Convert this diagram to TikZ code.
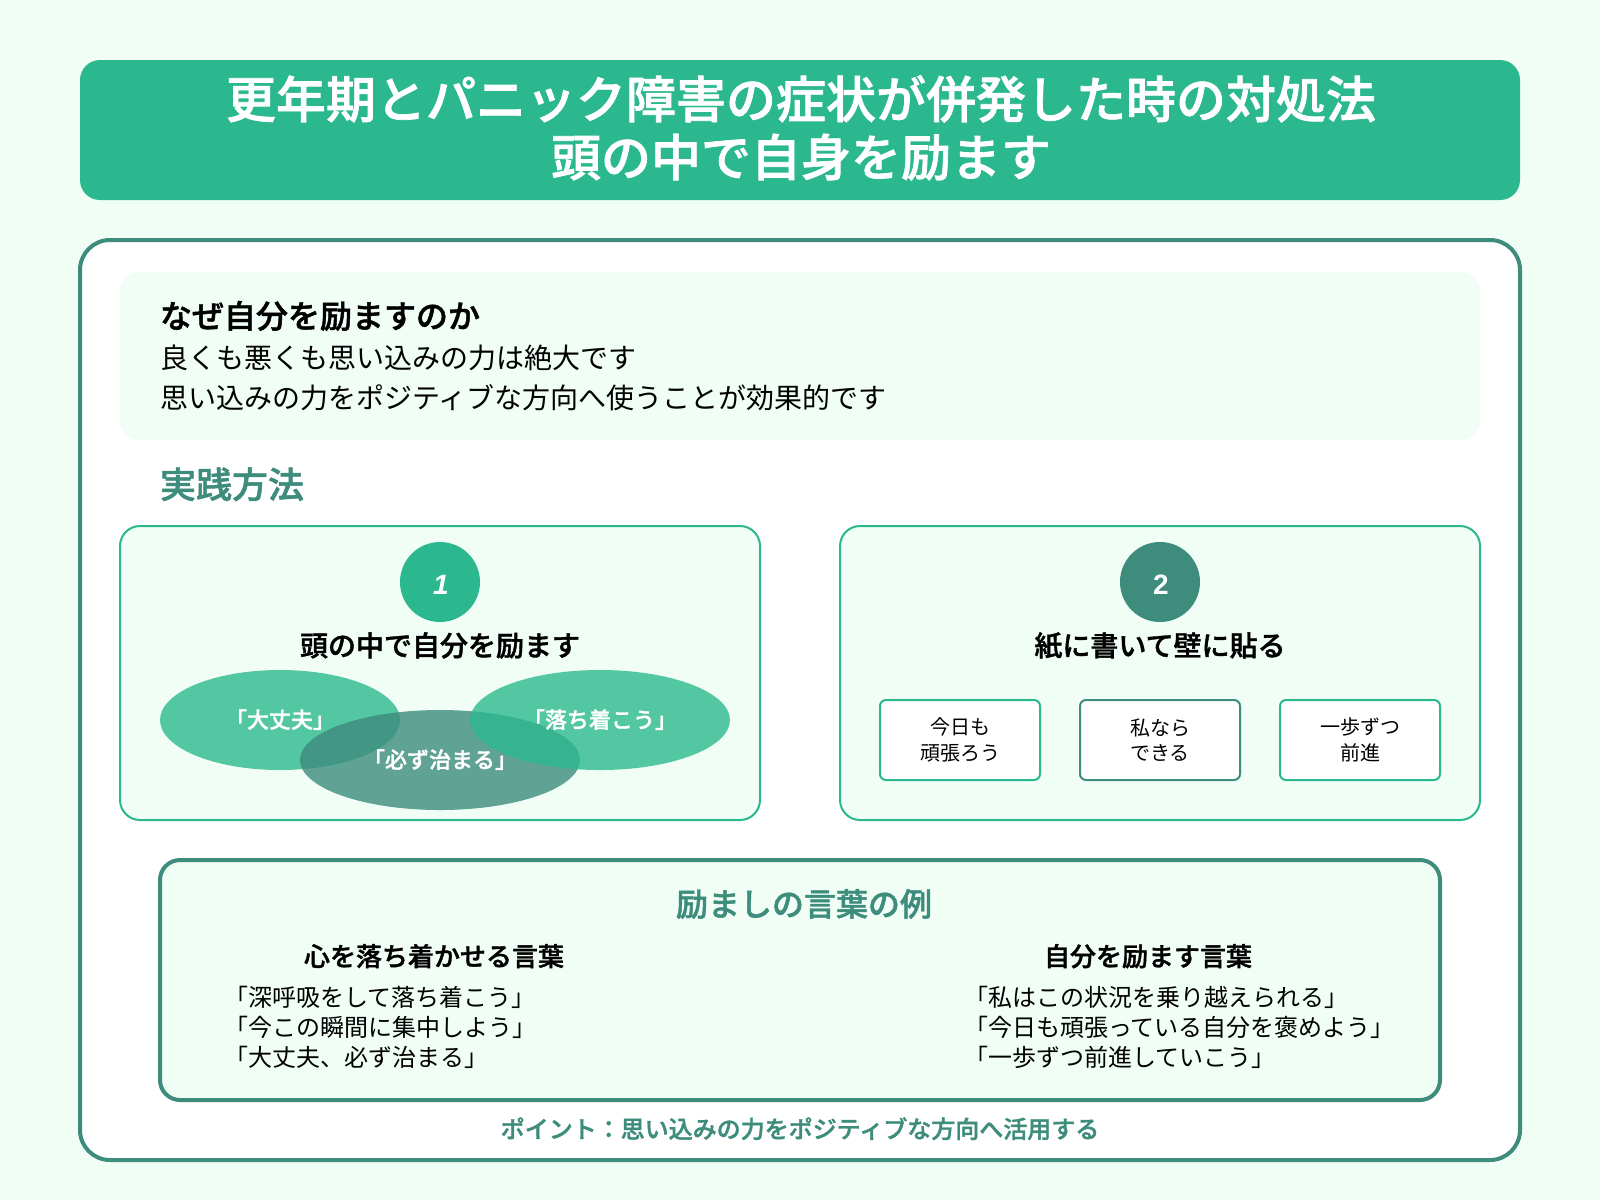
\documentclass[tikz,border=0pt]{standalone}
\usepackage{fontspec}
\setmainfont{Noto Sans CJK JP}[BoldFont={Noto Sans CJK JP Medium}, BoldFeatures={FakeBold=1.4}]
\newfontfamily\numfont{Liberation Sans}
\usetikzlibrary{positioning}
\definecolor{pagebg}{HTML}{F0FEF6}
\definecolor{mint}{HTML}{2CB88E}
\definecolor{deepteal}{HTML}{3D8C7C}
\newcommand{\fs}[1]{\fontsize{#1}{#1}\selectfont}
\tikzset{
    every node/.style={inner sep=0pt, outer sep=0pt},
    titletxt/.style={anchor=base, text=white, font=\fs{50}\bfseries},
    headtxt/.style={anchor=base west, font=\fs{32}\bfseries},
    bodytxt/.style={anchor=base west, font=\fs{28}},
    cardbox/.style={draw=mint, line width=2pt, fill=pagebg, rounded corners=20pt},
    cardtitle/.style={anchor=base, font=\fs{28}\bfseries},
    numdisc/.style={circle, minimum size=80pt},
    numtxt/.style={text=white, font=\numfont\fs{28}\bfseries},
    bubbletxt/.style={anchor=base, text=white, font=\fs{22}\bfseries},
    notebox/.style={draw=#1, line width=2pt, fill=white, rounded corners=6pt, minimum width=160pt, minimum height=80pt, align=center, font=\fontsize{20}{25.5}\selectfont},
    subhead/.style={anchor=base, font=\fs{26}\bfseries},
    saytxt/.style={anchor=base west, font=\fs{24}},
}
\begin{document}
\begin{tikzpicture}[x=1pt, y=-1pt]
    \useasboundingbox (0, 0) rectangle (1600, 1200);
    \fill [pagebg] (0, 0) rectangle (1600, 1200);

    % Title band
    \fill [mint, rounded corners=20pt] (80, 60) rectangle (1520, 200);
    \node [titletxt] (title1) at (801, 118) {更年期とパニック障害の症状が併発した時の対処法};
    \node [titletxt] (title2) at (801, 176) {頭の中で自身を励ます};

    % Main panel
    \draw [deepteal, line width=4pt, fill=white, rounded corners=30pt] (80, 240) rectangle (1520, 1160);

    % Why
    \fill [pagebg, rounded corners=20pt] (120, 272) rectangle (1480, 440);
    \node [headtxt] (whyhead) at (160, 328) {なぜ自分を励ますのか};
    \node [bodytxt] (whyline1) at (160, 368) {良くも悪くも思い込みの力は絶大です};
    \node [bodytxt] (whyline2) at (160, 408) {思い込みの力をポジティブな方向へ使うことが効果的です};

    \node [anchor=base west, text=deepteal, font=\fs{36}\bfseries] (method) at (160, 498) {実践方法};

    % Card 1
    \draw [cardbox] (120, 526) rectangle (760, 820);
    \node [numdisc, fill=mint] (disc1) at (440, 582) {};
    \node [numtxt, font=\numfont\fs{28}\bfseries\itshape] (num1) at (441, 585) {1};
    \node [cardtitle] (card1title) at (440, 656) {頭の中で自分を励ます};
    \fill [mint, opacity=0.8] (280, 720) ellipse (120 and 50);
    \fill [deepteal, opacity=0.8] (440, 760) ellipse (140 and 50);
    \fill [mint, opacity=0.8] (600, 720) ellipse (130 and 50);
    \node [bubbletxt] (say1) at (280, 728) {「大丈夫」};
    \node [bubbletxt] (say2) at (600, 728) {「落ち着こう」};
    \node [bubbletxt] (say3) at (440, 768) {「必ず治まる」};

    % Card 2
    \draw [cardbox] (840, 526) rectangle (1480, 820);
    \node [numdisc, fill=deepteal] (disc2) at (1160, 582) {};
    \node [numtxt] (num2) at (1161, 585) {2};
    \node [cardtitle] (card2title) at (1160, 656) {紙に書いて壁に貼る};
    \foreach \x/\c/\t/\u in {960/mint/今日も/頑張ろう, 1160/deepteal/私なら/できる, 1360/mint/一歩ずつ/前進} {
        \node [notebox=\c] (note\x) at (\x, 740) {\t\\\u};
    }

    % Examples
    \draw [deepteal, line width=4pt, fill=pagebg, rounded corners=20pt] (160, 860) rectangle (1440, 1100);
    \node [anchor=base, text=deepteal, font=\fs{32}\bfseries] (exhead) at (804, 916) {励ましの言葉の例};
    \node [subhead] (calmhead) at (434, 966) {心を落ち着かせる言葉};
    \node [subhead] (cheerhead) at (1148, 966) {自分を励ます言葉};
    \foreach \y/\a/\b in {1006/「深呼吸をして落ち着こう」/「私はこの状況を乗り越えられる」,
                          1036/「今この瞬間に集中しよう」/「今日も頑張っている自分を褒めよう」,
                          1066/「大丈夫、必ず治まる」/「一歩ずつ前進していこう」} {
        \node [saytxt] (calm\y) at (224, \y) {\a};
        \node [saytxt] (cheer\y) at (964, \y) {\b};
    }

    \node [anchor=base, text=deepteal, font=\fs{24}\bfseries] (point) at (800, 1138) {ポイント：思い込みの力をポジティブな方向へ活用する};
\end{tikzpicture}
\end{document}
